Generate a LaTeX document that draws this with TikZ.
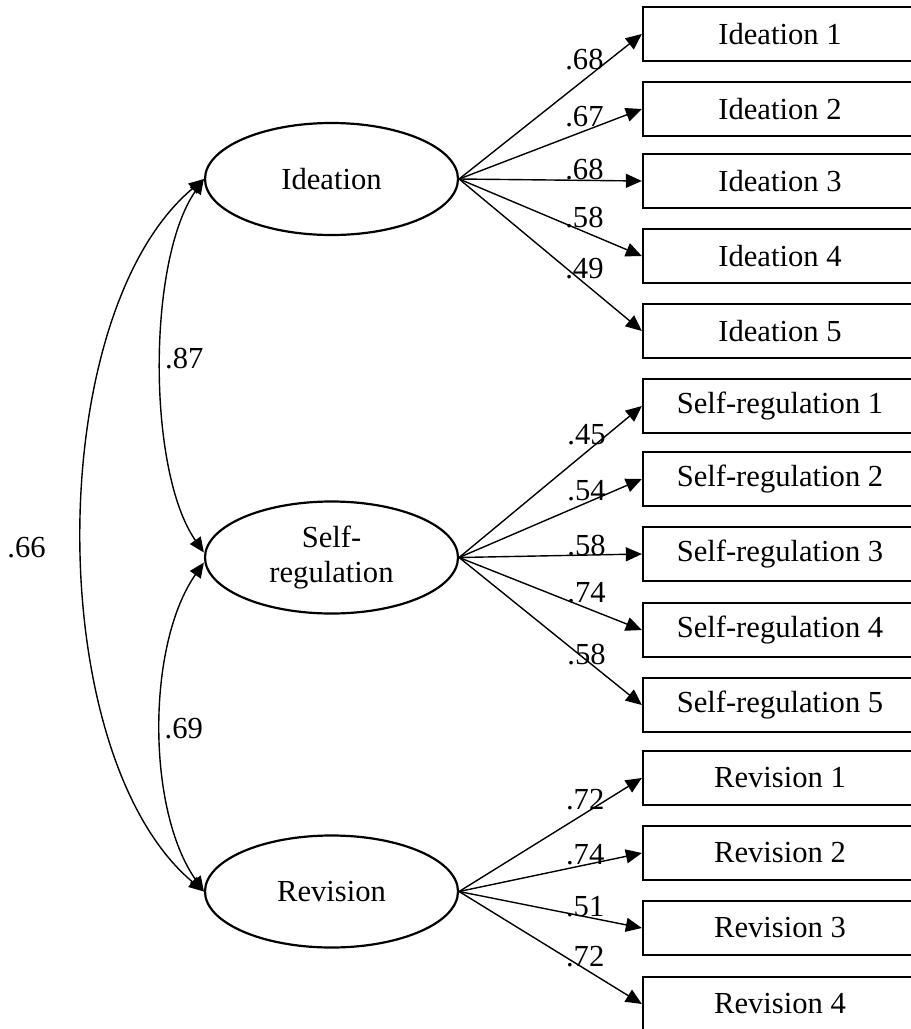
\documentclass[tikz,border=0pt]{standalone}
\usepackage{fontspec}
\setmainfont{Liberation Serif}
\usetikzlibrary{arrows.meta,shapes.geometric}

\begin{document}
\begin{tikzpicture}[x=0.5pt,y=-0.5pt,
  txt/.style={font=\fontsize{15.3}{17.5}\selectfont},
  latent/.style={txt, ellipse, draw, line width=1.1pt, minimum width=126.5pt,
    minimum height=56pt, inner sep=0pt, align=center},
  item/.style={txt, rectangle, draw, line width=1.15pt, minimum width=137pt,
    minimum height=27pt, inner sep=0pt},
  load/.style={-{Triangle[length=8pt,width=7pt]}, line width=0.7pt},
  cov/.style={{Triangle[length=7.5pt,width=6.5pt]}-{Triangle[length=7.5pt,width=6.5pt]},
    line width=0.7pt},
  lbl/.style={txt, inner sep=0pt}
]
\clip (0,0) rectangle (911,1029);

% latent factors
\node[latent] (ide) at (331.5,179)   {Ideation};
\node[latent] (sr)  at (331.5,557.5) {Self-\\regulation};
\node[latent] (rev) at (331.5,891.5) {Revision};

% indicators
\node[item] (i1) at (780,34)  {Ideation 1};
\node[item] (i2) at (780,109) {Ideation 2};
\node[item] (i3) at (780,181) {Ideation 3};
\node[item] (i4) at (780,256) {Ideation 4};
\node[item] (i5) at (780,331) {Ideation 5};

\node[item] (s1) at (780,406) {Self-regulation 1};
\node[item] (s2) at (780,479) {Self-regulation 2};
\node[item] (s3) at (780,554) {Self-regulation 3};
\node[item] (s4) at (780,630) {Self-regulation 4};
\node[item] (s5) at (780,705) {Self-regulation 5};

\node[item] (r1) at (780,778)  {Revision 1};
\node[item] (r2) at (780,853)  {Revision 2};
\node[item] (r3) at (780,928)  {Revision 3};
\node[item] (r4) at (780,1004) {Revision 4};

% factor loadings
\draw[load] (ide.east) -- node[lbl,pos=0.686,yshift=10pt]{.68} (i1.west);
\draw[load] (ide.east) -- node[lbl,pos=0.686,yshift=7pt]{.67} (i2.west);
\draw[load] (ide.east) -- node[lbl,pos=0.686,yshift=5.2pt]{.68} (i3.west);
\draw[load] (ide.east) -- node[lbl,pos=0.686,yshift=7pt]{.58} (i4.west);
\draw[load] (ide.east) -- node[lbl,pos=0.686,yshift=7.5pt]{.49} (i5.west);

\draw[load] (sr.east) -- node[lbl,pos=0.697,yshift=8.5pt]{.45} (s1.west);
\draw[load] (sr.east) -- node[lbl,pos=0.697,yshift=6.3pt]{.54} (s2.west);
\draw[load] (sr.east) -- node[lbl,pos=0.697,yshift=5pt]{.58} (s3.west);
\draw[load] (sr.east) -- node[lbl,pos=0.697,yshift=7.5pt]{.74} (s4.west);
\draw[load] (sr.east) -- node[lbl,pos=0.697,yshift=3pt]{.58} (s5.west);

\draw[load] (rev.east) -- node[lbl,pos=0.69,yshift=7pt]{.72} (r1.west);
\draw[load] (rev.east) -- node[lbl,pos=0.69,yshift=5pt]{.74} (r2.west);
\draw[load] (rev.east) -- node[lbl,pos=0.69,yshift=5pt]{.51} (r3.west);
\draw[load] (rev.east) -- node[lbl,pos=0.69,yshift=6.5pt]{.72} (r4.west);

% factor correlations
\draw[cov] (ide.west) to[out=235,in=125,looseness=0.68]
  node[lbl,pos=0.5,xshift=11.5pt,yshift=3.5pt]{.87} ([yshift=2.5pt]sr.west);
\draw[cov] ([yshift=-2.5pt]sr.west) to[out=235,in=125,looseness=0.78]
  node[lbl,pos=0.5,xshift=11.5pt,yshift=-1pt]{.69} (rev.west);
\draw[cov] (ide.west) to[out=220,in=140,looseness=0.76]
  node[lbl,pos=0.5,xshift=-28pt,yshift=-6.25pt]{.66} (rev.west);
\end{tikzpicture}
\end{document}
